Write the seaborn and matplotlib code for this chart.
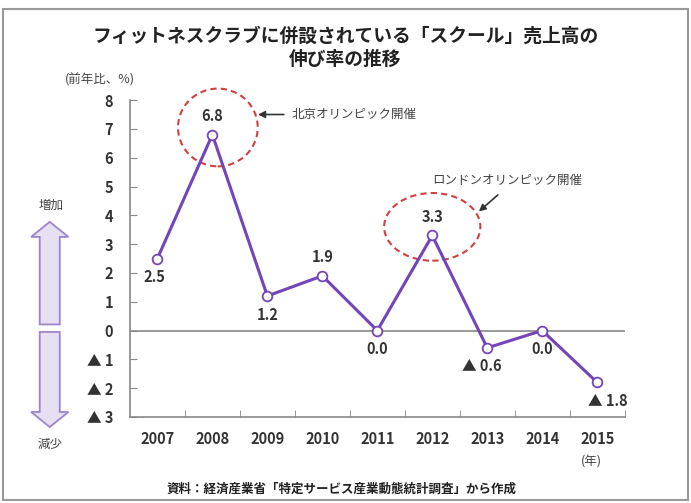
import matplotlib
matplotlib.use('Agg')
import matplotlib.pyplot as plt
from matplotlib.patches import Ellipse, FancyArrow, Rectangle
import seaborn as sns
import pandas as pd

# --- data ---
years = [2007, 2008, 2009, 2010, 2011, 2012, 2013, 2014, 2015]
growth = [2.5, 6.8, 1.2, 1.9, 0.0, 3.3, -0.6, 0.0, -1.8]
y_ticks = [-3, -2, -1, 0, 1, 2, 3, 4, 5, 6, 7, 8]
y_tick_labels = ['▲ 3', '▲ 2', '▲ 1', '0', '1', '2', '3', '4', '5', '6', '7', '8']
value_labels = ['2.5', '6.8', '1.2', '1.9', '0.0', '3.3', '▲ 0.6', '0.0', '▲ 1.8']

title = 'フィットネスクラブに併設されている「スクール」売上高の\n伸び率の推移'
source = '資料：経済産業省「特定サービス産業動態統計調査」から作成'

sns.set_style('white')
plt.rcParams['font.family'] = ['Noto Sans CJK JP', 'DejaVu Sans']

df = pd.DataFrame({'year': years, 'growth': growth})

fig = plt.figure(figsize=(6.91, 5.03), dpi=100)
ax = fig.add_axes([0.188, 0.171, 0.716, 0.630])

line_color = '#7445B8'
sns.lineplot(ax=ax, data=df, x='year', y='growth', color=line_color, lw=2.2,
             marker='o', markersize=7, markerfacecolor='white',
             markeredgecolor=line_color, markeredgewidth=1.3)

ax.set_xlim(2006.5, 2015.5)
ax.set_ylim(-3, 8)
ax.axhline(0, color='#888888', lw=1.2, zorder=0)

grey = '#888888'
for s in ['top', 'right']:
    ax.spines[s].set_visible(False)
for s in ['left', 'bottom']:
    ax.spines[s].set_color(grey)
    ax.spines[s].set_linewidth(1.2)

ax.set_yticks(y_ticks)
ax.set_yticklabels(y_tick_labels)
ax.set_xticks(years)
ax.set_xticklabels([str(y) for y in years])
ax.set_xticks([y + 0.5 for y in years], minor=True)
ax.tick_params(axis='y', direction='in', length=5, color=grey, labelsize=10.5,
               labelcolor='#333333', pad=12, left=True)
ax.tick_params(axis='x', which='major', length=0, labelsize=10.5,
               labelcolor='#333333', pad=10)
ax.tick_params(axis='x', which='minor', direction='in', length=5, color=grey,
               bottom=True)
for lab in ax.get_xticklabels() + ax.get_yticklabels():
    lab.set_fontweight('bold')
ax.set_xlabel('')
ax.set_ylabel('')

# value labels
offsets = [(-0.05, -0.65), (0, 0.65), (0, -0.65), (0, 0.65), (0, -0.65),
           (0, 0.65), (-0.1, -0.62), (0, -0.65), (0.2, -0.63)]
for x, y, t, (dx, dy) in zip(years, growth, value_labels, offsets):
    ax.text(x + dx, y + dy, t, ha='center', va='center', fontsize=10.5,
            color='#333333', fontweight='bold')

# dashed circles
for x, y, w, h in [(2008.1, 7.05, 1.45, 2.7), (2012, 3.6, 1.75, 2.35)]:
    ax.add_patch(Ellipse((x, y), w, h, fill=False, ls=(0, (3, 2)),
                         ec='#D04040', lw=1.5, clip_on=False))

ax.annotate('', xy=(2008.78, 7.5), xytext=(2009.35, 7.5),
            arrowprops=dict(arrowstyle='-|>', color='#333333', lw=1.2))
ax.text(2009.45, 7.5, '北京オリンピック開催', fontsize=9, color='#444444',
        va='center', ha='left')
ax.annotate('', xy=(2012.81, 4.07), xytext=(2013.23, 4.77),
            arrowprops=dict(arrowstyle='-|>', color='#333333', lw=1.2))
ax.text(2013.37, 5.2, 'ロンドンオリンピック開催', fontsize=9, color='#444444',
        va='center', ha='center')

# figure-level text
fig.text(0.5, 0.905, title, ha='center', va='center', fontsize=13.5,
         fontweight='bold', color='#222222', linespacing=1.3)
fig.text(0.145, 0.842, '(前年比、%)', ha='center', va='center', fontsize=9,
         color='#444444')
fig.text(0.856, 0.082, '(年)', ha='center', va='center', fontsize=9,
         color='#444444')
fig.text(0.495, 0.028, source, ha='center', va='center', fontsize=9,
         color='#222222', fontweight='bold')
fig.text(0.074, 0.592, '増加', ha='center', va='center', fontsize=9, color='#444444')
fig.text(0.072, 0.117, '減少', ha='center', va='center', fontsize=9, color='#444444')

# up / down arrows
arrow_kw = dict(width=0.029, head_width=0.054, head_length=0.03,
                length_includes_head=True, fc='#E6E0F2', ec='#9C85CC', lw=1.3,
                transform=fig.transFigure)
fig.patches.append(FancyArrow(0.072, 0.355, 0, 0.204, **arrow_kw))
fig.patches.append(FancyArrow(0.072, 0.34, 0, -0.189, **arrow_kw))

# outer frame
fig.patches.append(Rectangle((0.005, 0.005), 0.99, 0.978, transform=fig.transFigure,
                             fill=False, ec='#999999', lw=1.5))

fig.savefig('out.png', dpi=100)
